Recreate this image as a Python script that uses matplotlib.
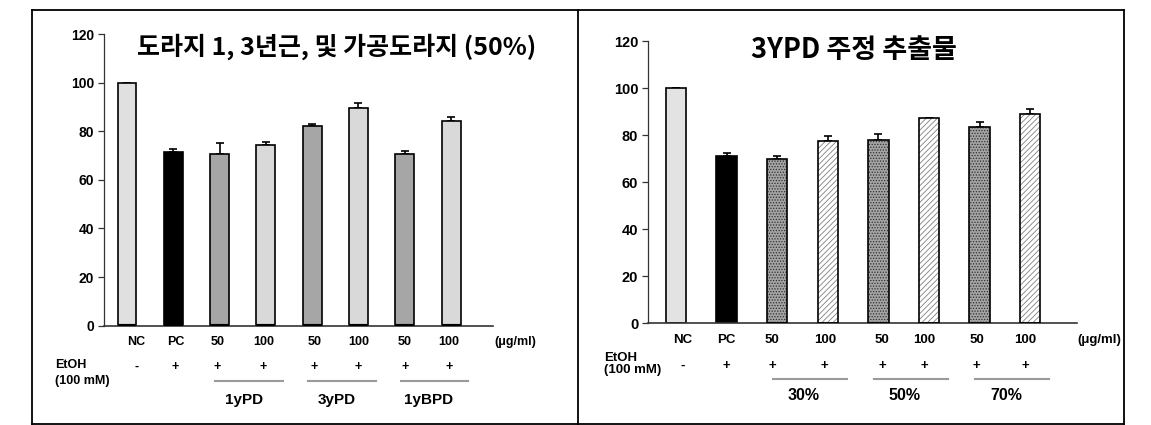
import numpy as np
import matplotlib
matplotlib.use("Agg")
import matplotlib.pyplot as plt
from matplotlib.transforms import blended_transform_factory
from matplotlib.lines import Line2D

# ---- data ----
cats = ["NC", "PC", "50", "100", "50", "100", "50", "100"]
etoh = ["-", "+", "+", "+", "+", "+", "+", "+"]

left_vals = [100, 71.3, 70.6, 74.3, 82.3, 89.6, 70.6, 84.1]
left_err = [0, 1.2, 4.4, 1.3, 0.7, 1.9, 1.3, 1.9]
left_groups = ["1yPD", "3yPD", "1yBPD"]
left_title = "도라지 1, 3년근, 및 가공도라지 (50%)"

right_vals = [100, 71.3, 70.1, 77.4, 78.0, 87.2, 83.5, 89.1]
right_err = [0, 1.3, 1.2, 2.5, 2.6, 0, 2.0, 2.0]
right_groups = ["30%", "50%", "70%"]
right_title = "3YPD 주정 추출물"

group_start = [2, 4, 6]
yticks = [0, 20, 40, 60, 80, 100, 120]

W, H = 1151, 425
plt.rcParams["hatch.linewidth"] = 0.6
KR = ["Noto Sans CJK KR", "DejaVu Sans"]
SANS = dict(family=["Liberation Sans", "DejaVu Sans"])

fig = plt.figure(figsize=(W / 100, H / 100), dpi=100)


def px_axes(l, r, top, bot):
    return fig.add_axes([l / W, 1 - bot / H, (r - l) / W, (bot - top) / H])


def fy(y):
    # pixel from top -> figure fraction
    return 1 - y / H


def draw_panel(ax, vals, err, xlim, width, style, tick_fs):
    x = np.arange(len(vals))
    if style == "left":
        colors = ["#e0e0e0", "black", "#a6a6a6", "#d9d9d9", "#a6a6a6", "#d9d9d9", "#a6a6a6", "#d9d9d9"]
        ax.bar(x, vals, width, color=colors, edgecolor="black", linewidth=1.2, zorder=2)
        ax.hlines(np.zeros(len(x)), x - width / 2, x + width / 2, color="black", lw=3, zorder=3)
    else:
        colors = ["#e3e3e3", "black"]
        ax.bar(x[:2], vals[:2], width, color=colors, edgecolor="black", linewidth=1.2, zorder=2)
        dots = x[2::2]
        hat = x[3::2]
        ax.bar(dots, [vals[i] for i in dots], width, color="#a4a4a4", edgecolor="#303030",
               hatch="......", linewidth=0, zorder=2)
        ax.bar(hat, [vals[i] for i in hat], width, color="white", edgecolor="#808080",
               hatch="//////", linewidth=0, zorder=2)
        ax.bar(x[2:], vals[2:], width, color="none", edgecolor="black", linewidth=1.2, zorder=3)
    up = np.array(err)
    ax.errorbar(x, vals, yerr=[np.zeros_like(up), up], fmt="none", ecolor="black",
                elinewidth=1.2, capsize=2.8, capthick=1.2, zorder=1)
    ax.set_xlim(*xlim)
    ax.set_ylim(0, 120)
    ax.set_yticks(yticks)
    ax.set_yticklabels([str(t) for t in yticks], fontsize=tick_fs, weight="bold", **SANS)
    ax.set_xticks([])
    for s in ["top", "right"]:
        ax.spines[s].set_visible(False)
    ax.spines["left"].set_color("#333333")
    ax.spines["bottom"].set_color("#333333")
    ax.spines["left"].set_linewidth(0.9)
    ax.spines["bottom"].set_linewidth(1.2)
    ax.tick_params(axis="y", length=4, width=0.9, color="#333333", pad=3)


def draw_labels(ax, groups, shifts, y_cat, y_etoh, x_etoh, y_mm, y_sign, y_line, y_grp,
                x_unit, fs):
    tr = blended_transform_factory(ax.transData, fig.transFigure)
    for i, (c, s) in enumerate(zip(cats, etoh)):
        ax.text(i + shifts[i], fy(y_cat), c, transform=tr, ha="center", va="center",
                weight="bold", fontsize=fs, **SANS)
        ax.text(i + shifts[i], fy(y_sign), s, transform=tr, ha="center", va="center",
                weight="bold", fontsize=fs, **SANS)
    fig.text(x_unit / W, fy(y_cat), "(μg/ml)", ha="center", va="center",
             weight="bold", fontsize=fs, **SANS)
    fig.text(x_etoh / W, fy(y_etoh), "EtOH", ha="left", va="center",
             weight="bold", fontsize=fs, **SANS)
    fig.text(x_etoh / W, fy(y_mm), "(100 mM)", ha="left", va="center",
             weight="bold", fontsize=fs, **SANS)
    for g, name in zip(group_start, groups):
        ax.plot([g - 0.09, g + 1.37], [fy(y_line), fy(y_line)], transform=tr,
                color="#9a9a9a", lw=1.5, clip_on=False)
        ax.text(g + 0.52, fy(y_grp), name, transform=tr, ha="center", va="center",
                weight="bold", fontsize=fs + 2, **SANS)


# left panel
ax1 = px_axes(104, 493, 34, 325.7)
draw_panel(ax1, left_vals, left_err, ((104 - 127) / 46.3, (493 - 127) / 46.3), 0.41,
           "left", 10)
draw_labels(ax1, left_groups, [0.2, 0.05, -0.05, -0.05, 0.05, 0, 0, -0.05],
            342, 365, 55, 381, 367, 381, 400, 515, 9)
fig.text(337 / W, fy(47), left_title, ha="center", va="center", family=KR,
         weight="bold", fontsize=18)

# right panel
ax2 = px_axes(648, 1077, 41.3, 323.3)
draw_panel(ax2, right_vals, right_err, ((648 - 676) / 50.6, (1077 - 676) / 50.6), 0.405,
           "right", 10.5)
draw_labels(ax2, right_groups, [0.14, 0, -0.1, -0.06, 0.07, -0.1, -0.06, -0.1],
            340, 358, 604, 370, 366, 379, 395, 1099, 9.5)
fig.text(854 / W, fy(50), right_title, ha="center", va="center", family=KR,
         weight="bold", fontsize=19.5)

# outer frame
lw = 1.3
for (x0, y0, x1, y1) in [(32, 10, 1124, 10), (32, 424, 1124, 424), (32, 10, 32, 424),
                         (578, 10, 578, 424), (1124, 10, 1124, 424)]:
    fig.add_artist(Line2D([x0 / W, x1 / W], [fy(y0), fy(y1)], color="black", lw=lw,
                          transform=fig.transFigure))

fig.savefig("out.png", dpi=100)
